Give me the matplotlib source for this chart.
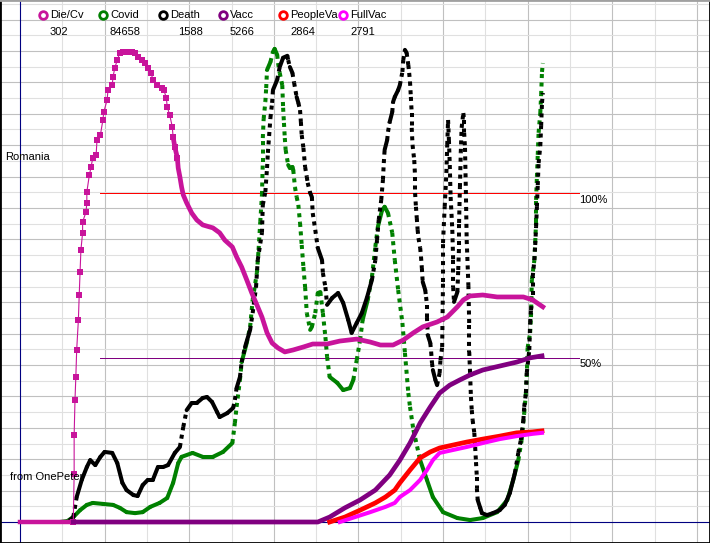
import matplotlib
matplotlib.use("Agg")
import matplotlib.pyplot as plt
from matplotlib.collections import LineCollection

plt.rcParams['font.family'] = ['Liberation Sans', 'DejaVu Sans']

# legend: names, numbers under them, colours
names = ["Die/Cv", "Covid", "Death", "Vacc", "PeopleVa", "FullVac"]
totals = ["302", "84658", "1588", "5266", "2864", "2791"]
colors = ["#c8149b", "#008000", "#000000", "#800080", "#ff0000", "#ff00ff"]

# all series: day since start, value in percent of the 100% line
diecv_day = [0, 63, 64, 64, 65, 66, 67, 69, 70, 71, 72, 74, 74, 78, 79, 79, 82, 84, 86, 90, 91, 95, 98, 99,
             103, 104, 109, 110, 112, 115, 118, 122, 126, 132, 136, 139, 144, 148, 151, 155, 157, 162, 168,
             170, 173, 174, 177, 180, 181, 183, 186, 187, 189, 191, 193, 197, 203, 209, 216, 228, 236, 242,
             251, 256, 262, 268, 274, 280, 286, 292, 298, 305, 313, 323, 335, 346, 363, 378, 398, 414, 426,
             441, 453, 465, 476, 493, 505, 517, 524, 532, 547, 564, 579, 595, 606, 618]
diecv_pct = [0, 0, 14.6, 26.4, 37.1, 44.1, 52.3, 61.4, 69.0, 76.0, 82.7, 87.9, 91.2, 94.2, 97.0, 100.3, 105.5,
             107.9, 110.7, 111.6, 116.1, 117.6, 122.2, 124.6, 128.3, 131.3, 132.8, 135.3, 138.0, 140.4, 142.6,
             142.9, 142.9, 142.9, 142.6, 141.4, 140.4, 139.5, 138.0, 136.5, 134.4, 132.8, 131.9, 131.3, 128.9,
             126.2, 123.7, 120.1, 117.0, 114.0, 110.7, 107.6, 104.9, 101.8, 99.4, 97.0, 93.9, 91.8, 90.3, 89.4,
             87.9, 85.7, 83.6, 80.6, 77.5, 73.6, 69.6, 66.0, 62.3, 57.5, 54.4, 52.9, 51.7, 52.3, 53.2, 54.1,
             54.1, 55.0, 55.6, 54.7, 53.8, 53.8, 55.3, 57.5, 59.3, 60.8, 62.3, 65.4, 67.5, 68.7, 69.0, 68.4,
             68.4, 68.4, 67.5, 65.4]

covid_day = [47, 56, 63, 71, 79, 86, 98, 110, 118, 126, 136, 145, 154, 165, 174, 181, 187, 191, 204, 216, 228,
             240, 251, 254, 256, 260, 262, 268, 272, 275, 280, 282, 284, 286, 287, 287, 288, 290, 291, 292, 296,
             299, 301, 304, 305, 307, 310, 311, 312, 313, 314, 317, 319, 322, 323, 325, 327, 329, 331, 333, 335,
             337, 339, 343, 345, 349, 352, 355, 358, 361, 363, 366, 375, 382, 390, 394, 398, 402, 405, 411, 416,
             420, 423, 428, 431, 435, 440, 443, 447, 452, 455, 459, 461, 465, 473, 481, 488, 500, 517, 532, 547,
             564, 576, 583, 589, 593, 596, 598, 599, 600, 603, 604, 605, 608, 609, 610, 610, 611, 612, 613, 615,
             616, 617, 618]
covid_pct = [0, 0.3, 1.5, 3.6, 5.2, 5.8, 5.5, 5.2, 4.3, 3.0, 2.7, 3.0, 4.6, 5.8, 7.3, 11.9, 17.9, 19.8, 21.0,
             19.8, 19.8, 21.3, 24.0, 30.1, 35.0, 43.2, 48.6, 54.4, 59.3, 67.5, 75.7, 82.7, 91.2, 99.4, 109.4,
             116.7, 122.5, 127.7, 131.9, 137.4, 139.8, 142.9, 143.8, 142.0, 139.5, 136.5, 132.8, 125.9, 121.3,
             116.7, 113.1, 108.5, 107.6, 107.9, 107.0, 101.8, 98.8, 96.4, 90.9, 84.2, 77.5, 71.4, 63.5, 58.4,
             59.3, 63.5, 69.6, 69.9, 63.5, 56.2, 50.2, 44.1, 42.3, 40.1, 40.7, 43.2, 49.2, 55.3, 61.4, 67.5,
             74.5, 83.6, 89.7, 94.8, 95.8, 93.9, 87.9, 79.6, 70.5, 60.5, 51.4, 39.2, 35.0, 28.0, 18.8, 12.8, 7.6,
             3.0, 1.2, 0.6, 1.2, 3.0, 6.7, 12.8, 18.8, 24.9, 33.1, 39.2, 44.1, 52.9, 57.5, 62.3, 73.6, 79.6,
             85.1, 91.2, 97.9, 104.9, 111.6, 118.3, 124.3, 129.8, 136.8, 139.5]

death_day = [59, 63, 67, 73, 79, 83, 89, 95, 100, 109, 115, 121, 126, 134, 139, 145, 151, 157, 163, 169, 175,
             183, 189, 193, 197, 203, 209, 216, 221, 227, 233, 236, 245, 252, 254, 256, 260, 262, 266, 272, 275,
             279, 281, 286, 287, 290, 292, 293, 296, 298, 299, 304, 307, 311, 316, 317, 319, 322, 324, 327, 329,
             331, 332, 333, 335, 337, 339, 340, 343, 345, 346, 349, 352, 357, 358, 361, 363, 369, 376, 382, 388,
             392, 398, 404, 410, 416, 420, 422, 424, 427, 429, 430, 431, 434, 435, 437, 440, 441, 443, 447, 449,
             452, 453, 455, 457, 459, 460, 461, 462, 463, 463, 464, 466, 467, 467, 468, 469, 470, 471, 473, 474,
             475, 476, 479, 480, 481, 481, 482, 485, 486, 487, 488, 491, 493, 496, 497, 499, 500, 500, 502, 504,
             505, 506, 507, 508, 509, 511, 512, 512, 513, 517, 518, 519, 519, 520, 521, 522, 524, 525, 525, 526,
             527, 528, 530, 531, 531, 532, 533, 534, 535, 537, 538, 539, 540, 540, 541, 544, 546, 552, 559, 567,
             573, 579, 585, 589, 592, 595, 596, 598, 599, 602, 603, 604, 606, 606, 608, 609, 610, 611, 612, 613,
             615, 616, 617, 618]
death_pct = [0.6, 1.5, 7.6, 12.8, 16.7, 18.8, 17.3, 19.8, 21.3, 21.0, 17.9, 11.9, 9.7, 8.2, 7.9, 11.2, 12.8,
             12.8, 16.7, 16.7, 17.3, 21.0, 22.8, 28.9, 34.0, 36.2, 36.2, 37.7, 38.0, 36.5, 33.4, 31.9, 33.1,
             34.7, 37.1, 40.7, 44.1, 48.6, 53.2, 58.4, 63.5, 71.4, 79.6, 87.9, 96.4, 100.3, 107.6, 112.2, 122.8,
             127.4, 131.3, 134.4, 138.3, 141.1, 141.7, 140.4, 138.3, 136.5, 133.5, 129.2, 127.4, 125.2, 121.6,
             117.6, 113.7, 107.9, 104.9, 103.1, 100.0, 98.8, 93.9, 88.8, 83.3, 79.6, 75.7, 71.4, 66.0, 68.1,
             69.6, 66.6, 61.4, 57.5, 60.5, 63.5, 68.1, 73.6, 79.6, 85.7, 91.8, 97.9, 104.0, 109.1, 113.1, 116.1,
             118.6, 121.6, 124.6, 127.7, 129.2, 131.3, 132.8, 136.8, 140.4, 143.5, 142.6, 138.9, 136.5, 133.8,
             129.2, 124.3, 119.8, 114.6, 110.0, 104.9, 100.0, 95.8, 92.4, 88.8, 86.3, 83.3, 80.6, 77.2, 73.0,
             70.5, 68.4, 66.0, 62.3, 56.8, 54.4, 51.7, 48.3, 46.2, 43.2, 41.6, 45.3, 49.2, 53.2, 73.0, 84.8,
             95.8, 106.1, 114.6, 122.2, 116.1, 108.5, 98.8, 88.8, 79.6, 71.4, 66.9, 69.9, 76.6, 84.2, 90.9,
             101.8, 112.2, 119.8, 124.3, 122.2, 118.3, 113.7, 100.9, 85.7, 72.0, 59.9, 51.7, 45.3, 38.0, 34.0,
             31.0, 27.1, 22.8, 18.2, 13.7, 10.3, 6.7, 4.3, 2.7, 2.1, 2.7, 3.6, 5.2, 8.8, 14.9, 21.0, 24.9, 31.0,
             35.0, 39.2, 45.3, 52.3, 60.5, 64.4, 69.0, 74.5, 79.6, 84.2, 89.7, 95.8, 102.4, 109.1, 114.3, 120.4,
             127.4, 130.4]

vacc_day = [63, 352, 366, 384, 402, 420, 437, 449, 461, 473, 485, 496, 508, 520, 532, 547, 567, 587, 603, 617]
vacc_pct = [0, 0, 1.5, 4.3, 6.7, 9.7, 14.3, 18.8, 24.0, 30.1, 35.0, 39.2, 41.6, 43.2, 44.7, 46.2, 47.4, 48.6,
            49.9, 50.5]

people_day = [366, 384, 402, 420, 432, 443, 449, 461, 473, 485, 496, 512, 528, 547, 567, 587, 606, 617]
people_pct = [0, 1.5, 3.6, 5.8, 7.6, 9.7, 11.9, 15.8, 19.5, 21.3, 22.5, 23.4, 24.3, 25.2, 26.1, 27.1, 27.4, 27.7]

fullvac_day = [378, 396, 414, 432, 443, 449, 461, 473, 481, 488, 496, 512, 528, 547, 567, 587, 606, 617]
fullvac_pct = [0, 1.5, 3.0, 4.6, 5.8, 7.6, 9.7, 12.8, 15.8, 18.8, 21.0, 21.9, 22.8, 24.0, 25.2, 26.1, 26.8, 27.1]

# 100% and 50% marks
ref_levels = [100, 50]
ref_labels = ["100%", "50%"]
ref_colors = ["#ff0000", "#800080"]

fig = plt.figure(figsize=(7.1, 5.43), dpi=100)
ax = fig.add_axes([0, 0, 1, 1])
ax.set_xlim(-23.64, 815.6)
ax.set_ylim(-6.38, 158.66)
ax.set_xticks([])
ax.set_yticks([])
for s in ax.spines.values():
    s.set_color("black")
    s.set_linewidth(2)
ax.spines["top"].set_color("#a0a0a0")

# grid, darker every second line
ystep = 15.7 / 3.29
for k in range(1, 17):
    ax.axvline(50 * k, color="#c0c0c0" if k % 2 == 0 else "#e0e0e0", lw=0.8, zorder=0)
for k in range(1, 34):
    ax.axhline(k * ystep, color="#c0c0c0" if k % 2 == 0 else "#e0e0e0", lw=0.8, zorder=0)
ax.axvline(0, color="#000080", lw=0.8, zorder=1)
ax.axhline(0, color="#000080", lw=0.8, zorder=1)

for lev, lab, c in zip(ref_levels, ref_labels, ref_colors):
    ax.plot([95, 661], [lev, lev], color=c, lw=0.72, antialiased=False, zorder=2)
    ax.text(661, lev - 0.5, lab, va="top", ha="left", fontsize=8)


# daily squares look: steep stretches come out dotted, flat ones solid
def daily_line(days, vals, color, z):
    pts = ax.transData.transform(list(zip(days, vals)))
    flat, steep = [], []
    for i in range(len(days) - 1):
        seg = [(days[i], vals[i]), (days[i + 1], vals[i + 1])]
        dx = abs(pts[i + 1][0] - pts[i][0])
        dy = abs(pts[i + 1][1] - pts[i][1])
        if dy > 4 * max(dx, 0.5):
            steep.append(seg)
        else:
            flat.append(seg)
    ax.add_collection(LineCollection(flat, colors=color, linewidths=2.9, capstyle="round", zorder=z))
    ax.add_collection(LineCollection(steep, colors=color, linewidths=2.9, linestyles=[(0, (1, 1.1))],
                                     capstyle="butt", zorder=z))


daily_line(covid_day, covid_pct, colors[1], 3)
daily_line(death_day, death_pct, colors[2], 3)

early = [i for i, d in enumerate(diecv_day) if 63 <= d <= 186]
ax.plot([diecv_day[i] for i in early], [diecv_pct[i] for i in early], color=colors[0], lw=0.8,
        marker="s", ms=3.8, mew=0, zorder=4)
ax.plot(diecv_day[:2], diecv_pct[:2], color=colors[0], lw=3.2, zorder=4)
late = [i for i, d in enumerate(diecv_day) if d >= 181]
ax.plot([diecv_day[i] for i in late], [diecv_pct[i] for i in late], color=colors[0], lw=3.4, zorder=4)

ax.plot(vacc_day, vacc_pct, color=colors[3], lw=3.4, zorder=5)
ax.plot(people_day, people_pct, color=colors[4], lw=3.4, zorder=5)
ax.plot(fullvac_day, fullvac_pct, color=colors[5], lw=2.9, zorder=5)

# legend row at the top
for i, (n, t, c) in enumerate(zip(names, totals, colors)):
    mx = (43 + 60 * i) / 710
    ax.plot([mx], [1 - 15 / 543], marker="o", ms=5.5, mfc="white", mec=c, mew=2,
            transform=fig.transFigure, clip_on=False)
    fig.text((50 + 60 * i) / 710, 1 - 15 / 543, n, va="center", ha="left", fontsize=8)
num_x = [50, 110, 178, 230, 290, 350]
for t, x in zip(totals, num_x):
    fig.text(x / 710, 1 - 32 / 543, t, va="center", ha="left", fontsize=8)

fig.text(5 / 710, 1 - 157 / 543, "Romania", va="center", ha="left", fontsize=8)
fig.text(10 / 710, 1 - 477 / 543, "from OnePeter", va="center", ha="left", fontsize=8)

fig.savefig("out.png", dpi=100)
